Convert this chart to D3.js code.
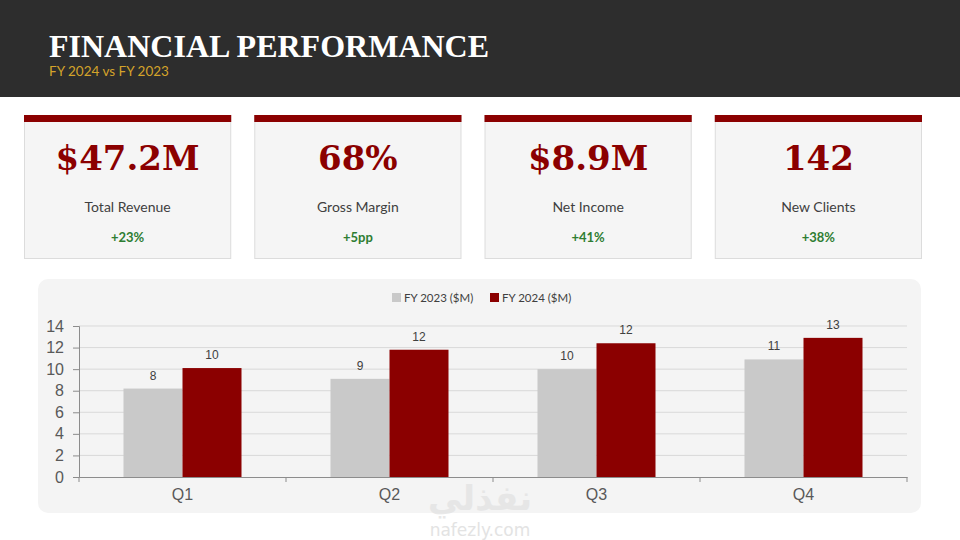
<!DOCTYPE html>
<html><head><meta charset="utf-8">
<script src="https://cdn.jsdelivr.net/npm/d3@7"></script>
<style>html,body{margin:0;padding:0;background:#fff;}svg{display:block;}</style>
</head><body>
<svg id="c" width="960" height="540"></svg>
<script>
const title = "FINANCIAL PERFORMANCE";
const subtitle = "FY 2024 vs FY 2023";
const kpiValues = ["$47.2M", "68%", "$8.9M", "142"];
const kpiLabels = ["Total Revenue", "Gross Margin", "Net Income", "New Clients"];
const kpiChanges = ["+23%", "+5pp", "+41%", "+38%"];
const quarters = ["Q1", "Q2", "Q3", "Q4"];
const seriesNames = ["FY 2023 ($M)", "FY 2024 ($M)"];
const fy2023 = [8.2, 9.1, 10.0, 10.9];
const fy2024 = [10.1, 11.8, 12.4, 12.9];
const yTicks = [0, 2, 4, 6, 8, 10, 12, 14];

const svg = d3.select("#c");
const RED = "#8b0000", GRAY = "#c9c9c9";

// header
svg.append("rect").attr("x",0).attr("y",0).attr("width",960).attr("height",97).attr("fill","#2d2d2d");
svg.append("text").attr("x",49).attr("y",57).text(title)
  .attr("font-family","'Liberation Serif', 'Times New Roman', serif").attr("font-weight","bold")
  .attr("font-size",32).attr("fill","#fff");
svg.append("text").attr("x",49).attr("y",76).text(subtitle)
  .attr("font-family","Lato, 'Open Sans', sans-serif").attr("font-size",13.5).attr("fill","#d4a32a");

// KPI cards
const cardX = d3.scaleBand().domain(d3.range(4)).range([24, 922]).paddingInner(0.1);
const cards = svg.selectAll("g.card").data(kpiValues).join("g").attr("class","card")
  .attr("transform",(d,i)=>`translate(${cardX(i)},115)`);
cards.append("rect").attr("x",0.5).attr("y",0.5).attr("width",cardX.bandwidth()-1).attr("height",143)
  .attr("fill","#f5f5f5").attr("stroke","#dcdcdc");
cards.append("rect").attr("x",0).attr("y",0).attr("width",cardX.bandwidth()).attr("height",7).attr("fill",RED);
cards.append("text").attr("x",cardX.bandwidth()/2).attr("y",55).attr("text-anchor","middle")
  .attr("font-family","'DejaVu Serif', Georgia, serif").attr("font-weight","bold").attr("font-size",34)
  .attr("fill",RED).text(d=>d);
cards.append("text").attr("x",cardX.bandwidth()/2).attr("y",97).attr("text-anchor","middle")
  .attr("font-family","Lato, 'Open Sans', sans-serif").attr("font-size",14).attr("fill","#404040")
  .text((d,i)=>kpiLabels[i]);
cards.append("text").attr("x",cardX.bandwidth()/2).attr("y",127).attr("text-anchor","middle")
  .attr("font-family","Lato, 'Open Sans', sans-serif").attr("font-weight","bold").attr("font-size",13)
  .attr("fill","#2e7d32").text((d,i)=>kpiChanges[i]);

// chart panel
svg.append("rect").attr("x",38).attr("y",279).attr("width",883).attr("height",234).attr("rx",10)
  .attr("fill","#f4f4f4");

// legend
const legend = svg.append("g").attr("transform","translate(392,298)");
const legX = [0, 98];
seriesNames.forEach((n,i)=>{
  legend.append("rect").attr("x",legX[i]).attr("y",-5).attr("width",9).attr("height",9).attr("fill",i?RED:GRAY);
  legend.append("text").attr("x",legX[i]+12).attr("y",4).text(n)
    .attr("font-family","Lato, 'Open Sans', sans-serif").attr("font-size",11.5).attr("fill","#404040");
});

// scales
const x0 = d3.scaleBand().domain(quarters).range([79, 907]).padding(0);
const groupW = x0.bandwidth()*0.57;
const x1 = d3.scaleBand().domain([0,1]).range([0, groupW]).padding(0);
const y = d3.scaleLinear().domain([0,14]).range([477, 326]);

// grid
svg.append("g").selectAll("line").data(yTicks.slice(1)).join("line")
  .attr("x1",79).attr("x2",907).attr("y1",d=>y(d)).attr("y2",d=>y(d))
  .attr("stroke","#d9d9d9").attr("stroke-width",1);

// bars
const data = quarters.map((q,i)=>({q, vals:[fy2023[i], fy2024[i]]}));
const groups = svg.append("g").selectAll("g").data(data).join("g")
  .attr("transform",d=>`translate(${x0(d.q)+(x0.bandwidth()-groupW)/2},0)`);
groups.selectAll("rect").data(d=>d.vals.map((v,k)=>({v,k}))).join("rect")
  .attr("x",d=>x1(d.k)).attr("width",x1.bandwidth())
  .attr("y",d=>y(d.v)).attr("height",d=>y(0)-y(d.v))
  .attr("fill",d=>d.k?RED:GRAY);
groups.selectAll("text").data(d=>d.vals.map((v,k)=>({v,k}))).join("text")
  .attr("x",d=>x1(d.k)+x1.bandwidth()/2).attr("y",d=>y(d.v)-9)
  .attr("text-anchor","middle").attr("font-family","'Liberation Sans', Arial, sans-serif")
  .attr("font-size",12).attr("fill","#404040").text(d=>d3.format(".0f")(d.v));

// axes
const yAxis = svg.append("g").attr("transform","translate(79,0)")
  .call(d3.axisLeft(y).tickValues(yTicks).tickSize(6).tickPadding(9).tickFormat(d3.format("d")));
yAxis.select(".domain").attr("stroke","#8c8c8c");
yAxis.selectAll(".tick line").attr("stroke","#8c8c8c");
yAxis.selectAll("text").attr("font-family","'Liberation Sans', Arial, sans-serif").attr("font-size",16).attr("fill","#595959");

const xAxis = svg.append("g").attr("transform","translate(0,477)")
  .call(d3.axisBottom(x0).tickSize(0).tickPadding(12));
xAxis.select(".domain").attr("stroke","#8c8c8c");
xAxis.selectAll("text").attr("font-family","'Liberation Sans', Arial, sans-serif").attr("font-size",16).attr("fill","#595959");
const bounds = quarters.map(q=>x0(q)).concat([x0.range()[1]]);
xAxis.selectAll("line.sep").data(bounds).join("line").attr("class","sep")
  .attr("x1",d=>d).attr("x2",d=>d).attr("y1",0).attr("y2",5).attr("stroke","#8c8c8c");

// watermark
svg.append("text").attr("x",480).attr("y",510).attr("text-anchor","middle").text("نفذلي")
  .attr("font-family","'DejaVu Sans', sans-serif").attr("font-weight","bold").attr("font-size",34)
  .attr("fill","#e3e3e3").attr("opacity",0.8);
svg.append("text").attr("x",480).attr("y",536).attr("text-anchor","middle").text("nafezly.com")
  .attr("font-family","'DejaVu Sans', sans-serif").attr("font-size",17)
  .attr("fill","#e3e3e3");
</script>
</body></html>
